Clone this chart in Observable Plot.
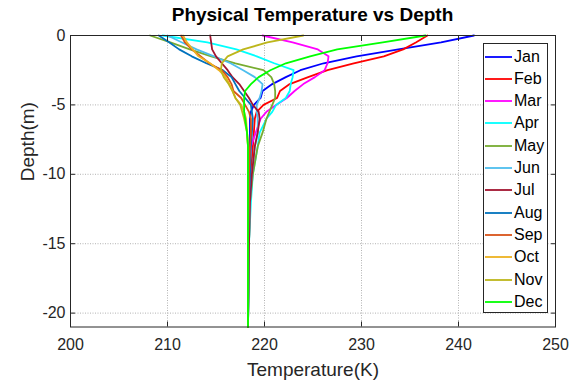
<!DOCTYPE html>
<html>
<head>
<meta charset="utf-8">
<script src="https://cdn.jsdelivr.net/npm/d3@7"></script>
<script src="https://cdn.jsdelivr.net/npm/@observablehq/plot@0.6"></script>
<style>
  html, body { margin: 0; padding: 0; background: #fff; }
  #wrap { position: relative; width: 581px; height: 382px; font-family: "Liberation Sans", Arial, sans-serif; }
  #title { position: absolute; left: 70px; width: 485px; top: 4px; text-align: center; font-weight: bold; font-size: 19px; color: #000; }
  #legend { position: absolute; left: 483px; top: 43px; width: 65px; height: 270px; border: 1px solid #262626; background: #fff; box-sizing: border-box; }
  .item { position: absolute; left: 0; height: 20px; display: flex; align-items: center; font-size: 16px; color: #000; }
  .item svg { margin-left: 1px; margin-right: 2px; }
</style>
</head>
<body>
<div id="wrap">
  <div id="chart"></div>
  <div id="title">Physical Temperature vs Depth</div>
  <div id="legend"></div>
</div>
<script>
const months = ["Jan","Feb","Mar","Apr","May","Jun","Jul","Aug","Sep","Oct","Nov","Dec"];
const colors = ["#0000FF","#FF0000","#FF00FF","#00FFFF","#77AC30","#4DBEEE","#A2142F","#0072BD","#D95319","#EDB120","#BDB61B","#00FF00"];
const depths = [0,-0.5,-1,-1.5,-2,-2.5,-3,-3.5,-4,-4.5,-5,-5.5,-6,-7,-8,-10,-12,-15,-21];

const jan = [241.6,238.2,233.8,229.5,226.1,223.7,222.2,220.8,219.8,219.6,218.9,218.6,218.5,218.5,218.5,218.5,218.4,218.4,218.3];
const feb = [236.8,235.6,234.3,232.3,229.2,226.5,224.5,222.6,221.6,221.3,219.9,219.2,219.0,218.9,218.8,218.6,218.5,218.4,218.3];
const mar = [219.8,222.9,225.5,226.6,226.5,226.2,225.2,224.0,223.1,222.3,221.2,220.2,219.6,219.1,218.6,218.3,218.3,218.3,218.3];
const apr = [209.5,214.1,217.1,219.2,221.0,223.0,222.9,222.7,222.6,222.2,221.2,220.8,220.2,219.5,219.3,218.8,218.6,218.4,218.3];
const may = [208.2,210.3,212.3,214.5,217.0,219.9,220.7,221.0,221.1,221.1,220.8,220.5,220.2,219.8,219.3,218.8,218.5,218.4,218.3];
const jun = [210.0,211.5,213.0,214.8,216.5,217.8,219.0,219.8,219.7,219.5,219.2,219.2,219.3,219.3,219.0,218.7,218.5,218.4,218.3];
const jul = [214.4,214.5,214.6,215.0,215.6,216.2,216.7,217.4,217.9,218.4,218.8,219.4,219.5,219.3,219.0,218.7,218.5,218.4,218.3];
const aug = [209.1,210.2,211.2,212.5,214.0,215.7,216.6,217.0,217.4,218.0,218.6,218.7,218.8,218.7,218.6,218.5,218.4,218.3,218.3];
const sep = [211.4,211.8,212.5,213.4,214.3,215.6,216.2,216.6,216.8,217.6,218.0,218.4,218.6,218.6,218.5,218.4,218.4,218.3,218.3];
const oct = [211.6,212.0,212.6,213.2,214.4,215.3,216.0,216.4,216.7,217.0,217.6,217.9,218.1,218.2,218.3,218.3,218.3,218.3,218.3];
const nov = [224.0,220.3,217.8,216.2,215.6,215.5,215.8,216.3,216.7,217.0,217.5,217.7,217.9,218.2,218.3,218.3,218.3,218.3,218.3];
const dec = [236.6,232.2,227.5,224.7,222.2,220.6,219.4,218.6,218.0,217.9,217.9,217.9,218.0,218.2,218.3,218.3,218.3,218.3,218.3];

const xTicks = [200,210,220,230,240,250];
const yTicks = [0,-5,-10,-15,-20];

const series = [jan,feb,mar,apr,may,jun,jul,aug,sep,oct,nov,dec];
const data = [];
series.forEach((vals, i) => vals.forEach((t, j) => data.push({month: months[i], t, d: depths[j]})));

const fmt = d => String(d);
const chart = Plot.plot({
  width: 581, height: 382,
  marginLeft: 70, marginRight: 26, marginTop: 35, marginBottom: 55.5,
  style: {fontFamily: "Liberation Sans, Arial, sans-serif", fontSize: "15px", background: "#fff", overflow: "visible"},
  x: {domain: [200,250]},
  y: {domain: [-21,0]},
  color: {domain: months, range: colors},
  marks: [
    Plot.gridX(xTicks, {stroke: "#a0a0a0", strokeOpacity: 1, strokeDasharray: "1,1.5", strokeWidth: 0.8}),
    Plot.gridY(yTicks, {stroke: "#a0a0a0", strokeOpacity: 1, strokeDasharray: "1,1.5", strokeWidth: 0.8}),
    Plot.line(data, {x: "t", y: "d", z: "month", stroke: "month", strokeWidth: 1.8}),
    Plot.axisX(xTicks, {anchor: "bottom", tickSize: 0, tickPadding: 12, tickFormat: fmt, fontSize: 16, fill: "#262626", label: null}),
    Plot.axisY(yTicks, {anchor: "left", tickSize: 0, tickPadding: 5, tickFormat: fmt, fontSize: 16, fill: "#262626", label: null}),
    Plot.text(["Temperature(K)"], {frameAnchor: "bottom", dy: 49, fontSize: 19, fill: "#262626", text: d => d}),
    Plot.text(["Depth(m)"], {frameAnchor: "left", dx: -43, rotate: -90, fontSize: 19, fill: "#262626", text: d => d}),
    Plot.axisX(xTicks, {anchor: "bottom", tickSize: -5, text: null, label: null, stroke: "#262626"}),
    Plot.axisX(xTicks, {anchor: "top", tickSize: -5, text: null, label: null, stroke: "#262626"}),
    Plot.axisY(yTicks, {anchor: "left", tickSize: -5, text: null, label: null, stroke: "#262626"}),
    Plot.axisY(yTicks, {anchor: "right", tickSize: -5, text: null, label: null, stroke: "#262626"}),
    Plot.frame({stroke: "#262626", strokeWidth: 1})
  ]
});
document.getElementById("chart").appendChild(chart);

const legend = document.getElementById("legend");
months.forEach((m, i) => {
  const div = document.createElement("div");
  div.className = "item";
  div.style.top = (2.5 + i * 22.3) + "px";
  div.innerHTML = `<svg width="27" height="4"><line x1="0" x2="27" y1="2" y2="2" stroke="${colors[i]}" stroke-width="1.8"/></svg><span>${m}</span>`;
  legend.appendChild(div);
});
</script>
</body>
</html>
